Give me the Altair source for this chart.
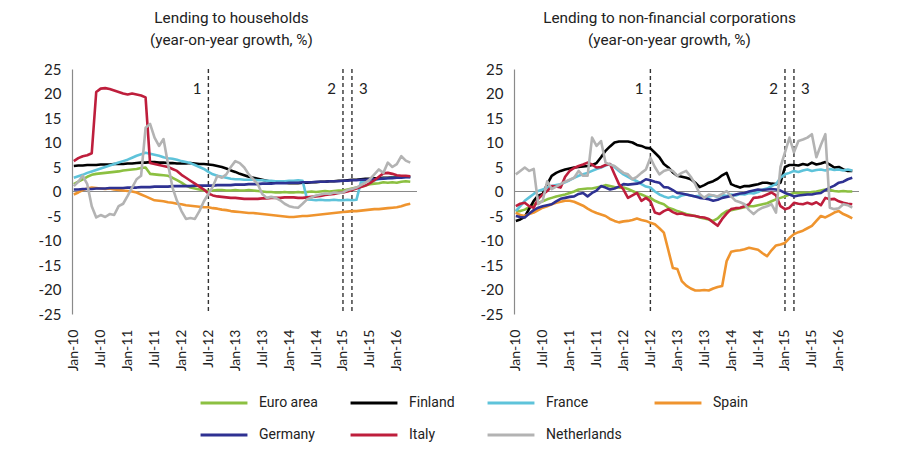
import json
import altair as alt
import pandas as pd

# ---------------- data ----------------
series = ["Euro area", "Finland", "France", "Spain", "Germany", "Italy", "Netherlands"]
colors = ["#8cc041", "#000000", "#5ec3da", "#ef942e", "#2e3192", "#be1e3c", "#b3b3b3"]

tick_months = [0, 6, 12, 18, 24, 30, 36, 42, 48, 54, 60, 66, 72]
tick_labels = ["Jan-10", "Jul-10", "Jan-11", "Jul-11", "Jan-12", "Jul-12", "Jan-13",
               "Jul-13", "Jan-14", "Jul-14", "Jan-15", "Jul-15", "Jan-16"]
y_ticks = [-25, -20, -15, -10, -5, 0, 5, 10, 15, 20, 25]

event_months = [30, 60, 62]
event_labels = ["1", "2", "3"]

# Lending to households, monthly Jan-10 .. Apr-16
hh_euro = [1.5, 2.0, 2.5, 3.0, 3.4, 3.6, 3.7, 3.8, 3.9, 4.0,
           4.1, 4.3, 4.4, 4.5, 4.6, 4.8, 4.9, 3.6, 3.5, 3.4,
           3.3, 3.2, 2.8, 2.3, 1.8, 1.2, 0.8, 0.6, 0.4, 0.2,
           0.1, 0.2, 0.3, 0.3, 0.2, 0.2, 0.3, 0.2, 0.2, 0.3,
           0.2, 0.1, 0.0, -0.1, -0.1, -0.2, -0.2, -0.1, -0.2, -0.2,
           -0.1, -0.2, -0.1, 0.0, -0.1, 0.0, 0.1, 0.0, 0.1, 0.2,
           0.2, 0.4, 0.6, 0.8, 1.0, 1.2, 1.5, 1.6, 1.7, 1.9,
           1.8, 1.9, 1.8, 2.0, 2.1, 2.0]
hh_fin = [5.2, 5.3, 5.3, 5.4, 5.4, 5.4, 5.5, 5.5, 5.5, 5.6,
          5.6, 5.6, 5.7, 5.7, 5.8, 5.9, 5.9, 6.0, 6.0, 5.9,
          5.9, 5.8, 5.8, 5.7, 5.7, 5.7, 5.8, 5.7, 5.6, 5.6,
          5.5, 5.4, 5.2, 5.0, 4.7, 4.3, 4.0, 3.6, 3.3, 3.0,
          2.8, 2.6, 2.4, 2.2, 2.0, 1.9, 1.8, 1.8, 1.7, 1.7,
          1.7, 1.8, 1.8, 1.9, 1.9, 2.0, 2.0, 2.1, 2.1, 2.2,
          2.2, 2.3, 2.4, 2.4, 2.5, 2.6, 2.6, 2.7, 2.7, 2.8,
          2.8, 2.9, 2.9, 3.0, 3.0, 3.0]
hh_fra = [2.8, 3.1, 3.4, 3.8, 4.1, 4.4, 4.7, 5.0, 5.3, 5.6,
          5.9, 6.2, 6.5, 6.9, 7.3, 7.6, 7.9, 7.7, 7.5, 7.3,
          7.0, 6.8, 6.7, 6.5, 6.2, 6.0, 5.8, 5.4, 5.0, 4.6,
          4.0, 3.5, 3.2, 3.0, 2.8, 2.6, 2.5, 2.5, 2.4, 2.4,
          2.4, 2.3, 2.3, 2.2, 2.2, 2.1, 2.1, 2.1, 2.2, 2.2,
          2.3, 2.2, -1.6, -1.7, -1.8, -1.7, -1.8, -1.8, -1.7, -1.8,
          -1.8, -1.7, -1.8, -1.7, 1.9, 2.1, 2.2, 2.3, 2.5, 2.6,
          2.7, 2.8, 2.8, 2.9, 3.0, 2.9]
hh_esp = [-0.6, -0.2, 0.3, 0.6, 0.8, 0.7, 0.6, 0.5, 0.6, 0.4,
          0.3, 0.2, 0.1, 0.0, -0.2, -0.6, -1.0, -1.4, -1.8, -1.9,
          -2.0, -2.2, -2.3, -2.5, -2.6, -2.8, -2.9, -3.0, -3.1, -3.2,
          -3.2, -3.4, -3.5, -3.7, -3.8, -4.0, -4.1, -4.2, -4.3, -4.4,
          -4.4, -4.5, -4.6, -4.7, -4.8, -4.9, -5.0, -5.1, -5.2, -5.2,
          -5.1, -5.0, -5.0, -4.9, -4.8, -4.7, -4.6, -4.5, -4.4, -4.3,
          -4.2, -4.1, -4.0, -4.0, -3.9, -3.8, -3.7, -3.6, -3.6, -3.5,
          -3.4, -3.3, -3.2, -3.0, -2.7, -2.5]
hh_deu = [0.4, 0.4, 0.5, 0.5, 0.5, 0.6, 0.6, 0.6, 0.7, 0.7,
          0.7, 0.7, 0.8, 0.8, 0.8, 0.9, 0.9, 0.9, 1.0, 1.0,
          1.0, 1.0, 1.1, 1.1, 1.1, 1.1, 1.1, 1.2, 1.2, 1.2,
          1.2, 1.2, 1.3, 1.3, 1.3, 1.3, 1.4, 1.4, 1.4, 1.5,
          1.5, 1.5, 1.6, 1.6, 1.6, 1.7, 1.7, 1.7, 1.8, 1.8,
          1.8, 1.9, 1.9, 1.9, 2.0, 2.0, 2.0, 2.1, 2.1, 2.1,
          2.2, 2.2, 2.3, 2.3, 2.4, 2.4, 2.5, 2.5, 2.6, 2.6,
          2.7, 2.7, 2.8, 2.8, 2.9, 2.9]
hh_ita = [6.2, 6.8, 7.2, 7.4, 7.8, 20.3, 21.0, 21.1, 20.9, 20.6,
          20.3, 20.0, 19.8, 20.0, 19.8, 19.6, 19.2, 5.8, 5.6, 5.4,
          5.2, 5.0, 4.6, 4.2, 3.4, 2.8, 2.2, 1.6, 1.0, 0.4,
          -0.4, -0.8, -1.0, -1.1, -1.2, -1.3, -1.3, -1.4, -1.5, -1.5,
          -1.5, -1.5, -1.4, -1.4, -1.3, -1.3, -1.3, -1.2, -1.2, -1.2,
          -1.3, -1.3, -1.2, -1.1, -1.0, -0.9, -0.7, -0.6, -0.5, -0.3,
          -0.2, 0.0, 0.3, 0.6, 0.9, 1.2, 1.7, 2.3, 3.0, 3.7,
          3.8, 3.6, 3.3, 3.2, 3.2, 3.1]
hh_nld = [1.1, 2.0, 3.2, 1.5, -3.0, -5.3, -4.8, -5.2, -4.6, -4.8,
          -3.0, -2.5, -0.9, 0.8, 2.5, 3.2, 13.0, 13.8, 11.0, 9.3,
          10.7, 5.6, 0.8, -1.9, -4.0, -5.6, -5.4, -5.6, -4.0, -2.0,
          -0.5, 1.0, 3.2, 2.8, 3.5, 5.0, 6.2, 5.8, 4.9, 3.5,
          2.5, 1.5, -0.5, -1.3, -1.1, -1.3, -1.8, -2.5, -3.0, -3.2,
          -3.3, -2.5, -1.6, -1.2, -0.8, -0.6, -0.4, -0.5, -0.2, -0.3,
          -0.2, 0.3, 0.5, 0.8, 1.3, 1.8, 2.5, 3.5, 4.5, 3.8,
          5.9, 5.0, 5.6, 7.2, 6.3, 5.9]

# Lending to non-financial corporations, monthly Jan-10 .. Apr-16
nfc_euro = [-4.0, -4.0, -3.7, -3.2, -2.6, -2.3, -2.0, -1.6, -1.3, -1.0,
            -0.8, -0.6, -0.3, 0.0, 0.4, 0.5, 0.6, 0.6, 0.8, 1.0,
            1.3, 1.1, 0.9, 0.8, 0.8, 0.5, 0.1, -0.3, -0.6, -1.0,
            -1.3, -1.9, -2.3, -2.6, -3.3, -3.6, -4.0, -4.3, -4.6, -4.8,
            -5.0, -5.3, -5.5, -5.7, -6.0, -5.5, -4.6, -4.0, -3.8, -3.6,
            -3.4, -3.2, -3.0, -3.0, -2.8, -2.6, -2.4, -2.0, -1.6, -1.3,
            -1.0, -0.6, -0.3, -0.3, -0.2, -0.3, -0.1, 0.0, 0.2, 0.4,
            0.3, 0.1, 0.0, 0.1, 0.0, 0.0]
nfc_fin = [-6.0, -5.7, -5.2, -3.5, -1.9, -0.8, -0.5, 1.5, 3.2, 3.8,
           4.2, 4.5, 4.7, 4.9, 5.0, 5.1, 5.2, 5.4, 5.8, 7.0,
           8.3, 9.2, 10.0, 10.2, 10.2, 10.2, 10.0, 9.5, 9.3, 8.9,
           8.8, 7.9, 7.0, 5.6, 4.9, 3.9, 3.2, 3.0, 2.8, 2.5,
           1.8, 0.9, 1.3, 1.8, 2.1, 2.6, 3.3, 3.8, 1.5, 1.1,
           0.8, 1.1, 1.1, 1.3, 1.5, 1.8, 1.8, 1.6, 1.5, 1.8,
           5.0, 5.4, 5.4, 5.3, 5.6, 5.4, 5.9, 5.5, 5.7, 6.0,
           5.5, 4.9, 5.0, 4.5, 4.2, 4.2]
nfc_fra = [-4.0, -3.0, -1.9, -1.2, -0.5, 0.1, 0.4, 0.8, 1.1, 1.3,
           1.5, 1.9, 2.3, 2.8, 3.2, 3.5, 3.8, 4.2, 4.6, 4.9,
           5.3, 5.6, 5.0, 4.2, 3.5, 3.0, 2.5, 2.1, 1.5, 1.0,
           0.8, 0.0, -0.6, -1.0, -1.3, -1.0, -1.3, -0.8, -0.6, -0.8,
           -1.0, -0.9, -1.2, -1.0, -0.8, -1.1, -0.7, -0.9, -0.6, -0.8,
           -0.5, -0.6, -0.3, -0.4, -0.1, 0.4, 0.6, 1.1, 1.5, 2.8,
           3.5, 3.8, 4.2, 4.0, 4.3, 4.5, 4.2, 4.4, 4.5, 4.3,
           4.6, 4.4, 4.5, 4.3, 4.5, 4.3]
nfc_esp = [-4.3, -4.8, -5.0, -4.6, -4.3, -3.8, -3.3, -3.0, -2.6, -2.3,
           -2.1, -1.9, -1.9, -2.1, -2.5, -2.9, -3.5, -4.0, -4.4, -4.7,
           -5.0, -5.6, -6.0, -6.3, -6.1, -6.0, -5.8, -5.5, -5.8, -6.0,
           -6.4, -6.7, -7.5, -8.4, -12.0, -15.6, -15.8, -18.3, -19.2, -19.8,
           -20.2, -20.2, -20.1, -20.2, -19.8, -19.5, -19.3, -14.2, -12.3, -12.1,
           -12.0, -11.8, -11.5, -11.7, -11.9, -12.6, -13.2, -12.0, -11.0, -10.8,
           -10.5, -9.5, -8.7, -8.3, -8.0, -7.5, -7.0, -6.0, -5.0, -5.3,
           -4.8, -4.3, -4.0, -4.6, -5.0, -5.5]
nfc_deu = [-5.0, -5.2, -5.3, -4.5, -3.8, -3.3, -3.0, -2.8, -2.6, -2.0,
           -1.5, -1.3, -1.1, -1.0, -0.5, -0.3, -1.0, -0.3, 0.2, 1.1,
           0.8, 0.4, 0.6, 1.0, 1.5, 1.4, 1.5, 1.6, 1.9, 2.5,
           2.3, 2.0, 1.8, 0.9, 0.8, 0.3, -0.3, -0.4, -0.6, -0.8,
           -1.0, -1.3, -1.4, -1.6, -1.9, -1.7, -1.3, -1.1, -0.9, -0.6,
           -0.4, -0.3, 0.0, 0.2, 0.4, 0.3, 0.4, 0.5, 0.4, 0.2,
           -0.3, -0.6, -1.0, -0.8, -0.7, -0.6, -0.6, -0.4, -0.3, 0.3,
           0.8, 1.2, 1.8, 2.0, 2.5, 2.8]
nfc_ita = [-3.0, -2.5, -2.3, -3.0, -3.3, -1.5, -0.6, 0.1, 1.1, 1.0,
           0.8, 3.0, 4.2, 4.8, 5.2, 5.5, 5.9, 5.5, 4.9, 5.0,
           5.4, 5.6, 3.5, 1.5, 0.4, -1.3, -0.8, -0.3, -1.9, -1.3,
           -2.0, -4.3, -4.6, -4.0, -3.6, -4.2, -4.6, -4.5, -4.8, -4.9,
           -5.0, -5.2, -5.3, -5.6, -6.3, -7.0, -5.6, -4.5, -3.6, -3.4,
           -3.3, -3.0, -2.6, -1.3, -1.2, -1.0, -0.6, -0.2, -0.8, -3.0,
           -3.6, -3.3, -2.3, -2.5, -2.6, -2.3, -2.6, -2.2, -2.8, -1.3,
           -1.6, -1.5, -2.0, -2.3, -2.5, -2.6]
nfc_nld = [3.5, 4.2, 4.9, 4.2, 4.6, -2.6, -1.9, 2.1, 0.5, 1.0,
           1.5, 2.0, 2.4, 2.8, 4.2, 3.2, 3.2, 11.0, 9.3, 10.3,
           5.9, 5.5, 5.2, 4.5, 3.8, 3.5, 2.5, 3.0, 3.8, 4.5,
           6.9, 5.0, 3.5, 4.2, 4.5, 4.2, 3.2, 3.8, 4.2, 3.0,
           1.5, -0.5, -1.3, -0.6, -0.8, -1.0, -0.5, 0.1, -1.0, -1.9,
           -2.2, -2.6, -3.8, -4.6, -3.8, -3.3, -3.0, -2.6, -4.3, 5.0,
           8.0, 11.0, 8.0, 10.3, 10.6, 11.0, 11.7, 7.0, 9.5, 11.7,
           -3.3, -3.6, -3.4, -2.6, -2.8, -3.3]

hh = {"Euro area": hh_euro, "Finland": hh_fin, "France": hh_fra, "Spain": hh_esp,
      "Germany": hh_deu, "Italy": hh_ita, "Netherlands": hh_nld}
nfc = {"Euro area": nfc_euro, "Finland": nfc_fin, "France": nfc_fra, "Spain": nfc_esp,
       "Germany": nfc_deu, "Italy": nfc_ita, "Netherlands": nfc_nld}


def long_table(d):
    rows = []
    for s in series:
        for i, v in enumerate(d[s]):
            rows.append({"m": i, "v": v, "series": s})
    return pd.DataFrame(rows)


events = pd.DataFrame({"m": event_months, "label": event_labels})
zero = pd.DataFrame({"z": [0]})

label_expr = json.dumps(tick_labels) + "[round(datum.value/6)]"

FONT_NUM = "Lato"
FONT_TXT = "Roboto"

x_scale = alt.Scale(domain=[-0.4, 76.5], nice=False, zero=False)
y_scale = alt.Scale(domain=[-25, 25], nice=False)

x_axis = alt.Axis(values=tick_months, labelExpr=label_expr, labelAngle=270,
                  labelOverlap=False, labelBound=False, domain=False, ticks=False,
                  grid=False, title=None,
                  labelFontSize=14, labelFont=FONT_NUM, labelColor="#222222",
                  labelPadding=15, zindex=1)
y_axis = alt.Axis(values=y_ticks, labelExpr="datum.value + ''", labelOverlap=False,
                  labelBound=False,
                  domain=True, domainColor="#8a8a8a", domainWidth=1.2,
                  ticks=False, grid=False, title=None,
                  labelFontSize=15, labelFont=FONT_NUM, labelColor="#222222",
                  labelPadding=11, zindex=1)


def X(field):
    return alt.X(field, type="quantitative", scale=x_scale, axis=x_axis)


def Y(field):
    return alt.Y(field, type="quantitative", scale=y_scale, axis=y_axis)


def panel(d, title_lines, title_dx):
    df = long_table(d)
    lines = alt.Chart(df).mark_line(strokeWidth=2.6, strokeJoin="round").encode(
        x=X("m"),
        y=Y("v"),
        color=alt.Color(
            "series:N",
            scale=alt.Scale(domain=series, range=colors),
            legend=alt.Legend(
                title=None, orient="none", direction="horizontal", columns=4,
                legendX=127, legendY=309,
                symbolType="stroke", symbolSize=2200, symbolStrokeWidth=3,
                labelFont=FONT_TXT, labelFontSize=14, labelColor="#222222",
                labelOffset=10, columnPadding=26, rowPadding=-14,
            ),
        ),
    )
    zero_rule = alt.Chart(zero).mark_rule(color="#8a8a8a", strokeWidth=1.2).encode(
        y=Y("z")
    )
    ev_rules = alt.Chart(events).mark_rule(
        color="#333333", strokeWidth=1.4, strokeDash=[4, 3]
    ).encode(x=X("m"))
    ev_left = alt.Chart(events).transform_filter("datum.label != '3'").mark_text(
        align="right", dx=-7, fontSize=15, font=FONT_NUM, color="#222222"
    ).encode(x=X("m"), y=alt.YDatum(21, scale=y_scale, axis=y_axis), text="label:N")
    ev_right = alt.Chart(events).transform_filter("datum.label == '3'").mark_text(
        align="left", dx=7, fontSize=15, font=FONT_NUM, color="#222222"
    ).encode(x=X("m"), y=alt.YDatum(21, scale=y_scale, axis=y_axis), text="label:N")
    return alt.layer(zero_rule, ev_rules, lines, ev_left, ev_right).properties(
        width=345,
        height=245,
        title=alt.TitleParams(
            title_lines, font=FONT_TXT, fontSize=15.3, fontWeight="normal",
            color="#222222", anchor="middle", dx=title_dx, offset=14, lineHeight=22,
        ),
    )


left = panel(hh, ["Lending to households", "(year-on-year growth, %)"], -13)
right = panel(nfc, ["Lending to non-financial corporations", "(year-on-year growth, %)"], -17)

chart = alt.hconcat(left, right, spacing=62).properties(
    padding={"left": 38, "top": 10, "right": 10, "bottom": 5},
    background="white",
).configure_view(stroke=None).configure_axis(labelOverlap=False)

chart.save("out.html", embed_options={"renderer": "svg", "actions": False})
